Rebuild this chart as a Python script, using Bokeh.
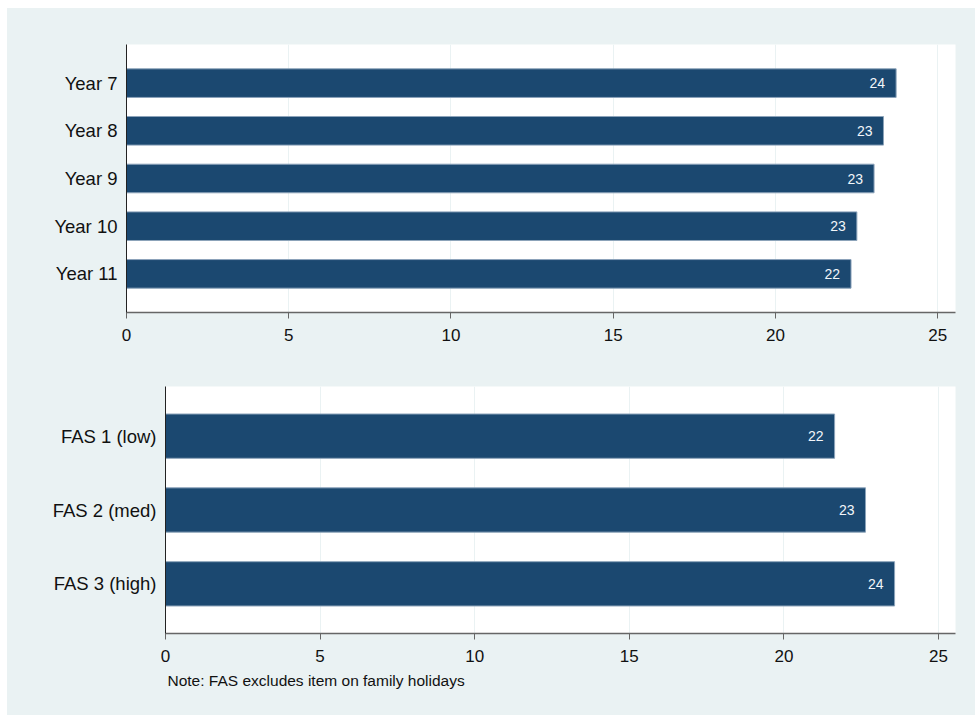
from bokeh.plotting import figure
from bokeh.models import Range1d, FactorRange, ColumnDataSource, Title
from bokeh.layouts import column, row
from bokeh.embed import file_html
from bokeh.resources import INLINE
from bokeh.core.properties import value

# ---- data ----
years = ["Year 7", "Year 8", "Year 9", "Year 10", "Year 11"]
year_vals = [23.72, 23.33, 23.04, 22.51, 22.33]

fas = ["FAS 1 (low)", "FAS 2 (med)", "FAS 3 (high)"]
fas_vals = [21.64, 22.64, 23.58]

x_ticks = [0, 5, 10, 15, 20, 25]
note = "Note: FAS excludes item on family holidays"

# ---- style ----
BG = "#EAF2F3"
BAR = "#1B4870"
BAR_EDGE = "#8CA3BA"
FONT = "Liberation Sans"


def make_panel(cats, vals, width, height, bl, br, bt, bb, pad):
    src = ColumnDataSource(dict(cat=cats, val=vals,
                                lab=[str(int(round(v))) for v in vals]))
    p = figure(width=width, height=height, output_backend="svg",
               toolbar_location=None,
               x_range=Range1d(0, 25.55),
               y_range=FactorRange(factors=list(reversed(cats)),
                                   range_padding=pad,
                                   range_padding_units="percent"),
               min_border_left=bl, min_border_right=br,
               min_border_top=bt, min_border_bottom=bb)
    p.background_fill_color = "white"
    p.border_fill_color = BG
    p.outline_line_color = None

    p.hbar(y="cat", right="val", left=0, height=0.6, source=src,
           fill_color=BAR, line_color=BAR_EDGE, line_width=1)
    p.text(x="val", y="cat", text="lab", source=src,
           x_offset=-11, text_align="right", text_baseline="middle",
           text_color="#F2F6FA", text_font=value(FONT),
           text_font_size="14px")

    p.xaxis.ticker = x_ticks
    p.xgrid.ticker = x_ticks
    p.xgrid.grid_line_color = BG
    p.xgrid.grid_line_width = 1
    p.ygrid.grid_line_color = None

    p.xaxis.axis_line_color = "#666666"
    p.xaxis.axis_line_width = 1.5
    p.xaxis.major_tick_line_color = "#666666"
    p.xaxis.major_tick_out = 6
    p.xaxis.major_tick_in = 0
    p.xaxis.minor_tick_line_color = None
    p.xaxis.major_label_standoff = 10
    p.xaxis.major_label_text_font = FONT
    p.xaxis.major_label_text_font_size = "17px"
    p.xaxis.major_label_text_color = "#111111"

    p.yaxis.axis_line_color = "#222222"
    p.yaxis.axis_line_width = 1
    p.yaxis.major_tick_line_color = None
    p.yaxis.major_tick_out = 0
    p.yaxis.major_tick_in = 0
    p.yaxis.major_label_standoff = 9
    p.yaxis.major_label_text_font = FONT
    p.yaxis.major_label_text_font_size = "18.5px"
    p.yaxis.major_label_text_color = "#111111"
    return p


top = make_panel(years, year_vals, 968, 354, 119, 20, 36, 50, 0.124)
bot = make_panel(fas, fas_vals, 968, 353, 158, 20, 24, 82, 0.115)

bot.add_layout(Title(text=note, align="left", offset=2,
                     text_font=FONT, text_font_size="15.5px",
                     text_font_style="normal", text_color="#111111",
                     standoff=10), "below")

layout = column(row(top), row(bot), spacing=0, background=BG,
                margin=(8, 0, 0, 7))

open("out.html", "w").write(file_html(layout, INLINE))
